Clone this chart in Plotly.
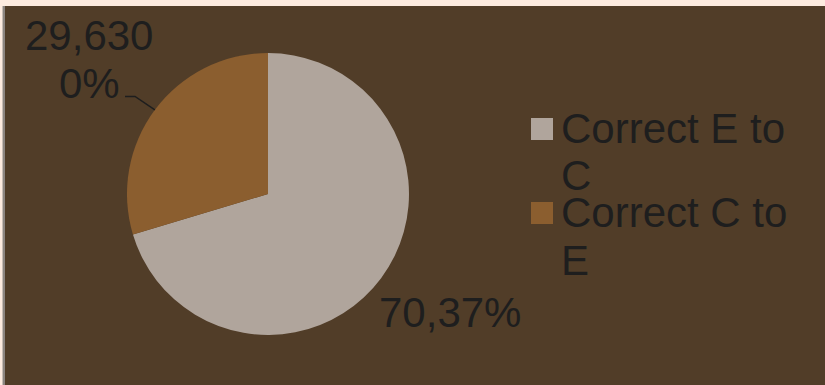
import math
import plotly.graph_objects as go

# Data
categories = ["Correct E to C", "Correct C to E"]
values = [70.37, 29.63]
value_labels = [["70,37%"], ["29,630", "0%"]]
legend_lines = [["Correct E to", "C"], ["Correct C to", "E"]]
slice_colors = ["#b0a59c", "#8b5e2f"]

W, H = 825, 385
BG = "#513d28"
CREAM = "#fdebdf"
TEXT = "#1e1e1e"
FONT = "Liberation Sans, Arial, sans-serif"
FS = 42

# pie geometry in pixels
cx, cy, r = 268, 194, 141


def px(x):
    return x / W


def py(y):
    return 1 - y / H


fig = go.Figure(
    go.Pie(
        labels=categories,
        values=values,
        sort=False,
        direction="clockwise",
        rotation=0,
        marker=dict(colors=slice_colors, line=dict(width=0)),
        textinfo="none",
        hoverinfo="label+percent",
        showlegend=False,
        domain=dict(x=[px(cx - r), px(cx + r)], y=[py(cy + r), py(cy - r)]),
    )
)

shapes = [
    # frame strips along top and left edges
    dict(type="rect", xref="paper", yref="paper", x0=0, x1=1, y0=py(6), y1=1,
         fillcolor=CREAM, line=dict(width=0)),
    dict(type="rect", xref="paper", yref="paper", x0=0, x1=px(2), y0=0, y1=py(6),
         fillcolor=CREAM, line=dict(width=0)),
    dict(type="rect", xref="paper", yref="paper", x0=px(2), x1=px(3), y0=0, y1=py(6),
         fillcolor="#c8bdb4", line=dict(width=0)),
    dict(type="rect", xref="paper", yref="paper", x0=px(3), x1=px(5), y0=0, y1=py(6),
         fillcolor="#8c8580", line=dict(width=0)),
]

# leader line for the smaller slice, anchored at the slice's mid angle
total = sum(values)
mid = (values[0] + values[1] / 2) / total * 2 * math.pi
ex, ey = cx + r * math.sin(mid), cy - r * math.cos(mid)
shapes.append(
    dict(type="path", xref="paper", yref="paper",
         path=f"M {px(125)},{py(96.5)} L {px(135)},{py(96.5)} L {px(ex)},{py(ey)}",
         line=dict(color=TEXT, width=1.5))
)

annotations = []


def add_text(text, x, y, xanchor="center"):
    annotations.append(dict(
        text=text, x=px(x), y=py(y), xref="paper", yref="paper",
        xanchor=xanchor, yanchor="middle", showarrow=False,
        font=dict(family=FONT, size=FS, color=TEXT),
    ))


# slice value labels
add_text(value_labels[0][0], 377, 312.5, xanchor="left")
add_text(value_labels[1][0], 89, 35)
add_text(value_labels[1][1], 89, 84)

# legend
legend_rows = [(118, [128, 175]), (202, [213, 260.5])]
for color, lines, (sq_top, ys) in zip(slice_colors, legend_lines, legend_rows):
    shapes.append(dict(type="rect", xref="paper", yref="paper",
                       x0=px(531), x1=px(553), y0=py(sq_top + 22), y1=py(sq_top),
                       fillcolor=color, line=dict(width=0)))
    for t, y in zip(lines, ys):
        add_text(t, 559, y, xanchor="left")

fig.update_layout(
    width=W,
    height=H,
    margin=dict(l=0, r=0, t=0, b=0),
    paper_bgcolor=BG,
    plot_bgcolor=BG,
    shapes=shapes,
    annotations=annotations,
    showlegend=False,
)

fig.write_html("out.html", config={"displayModeBar": False})
